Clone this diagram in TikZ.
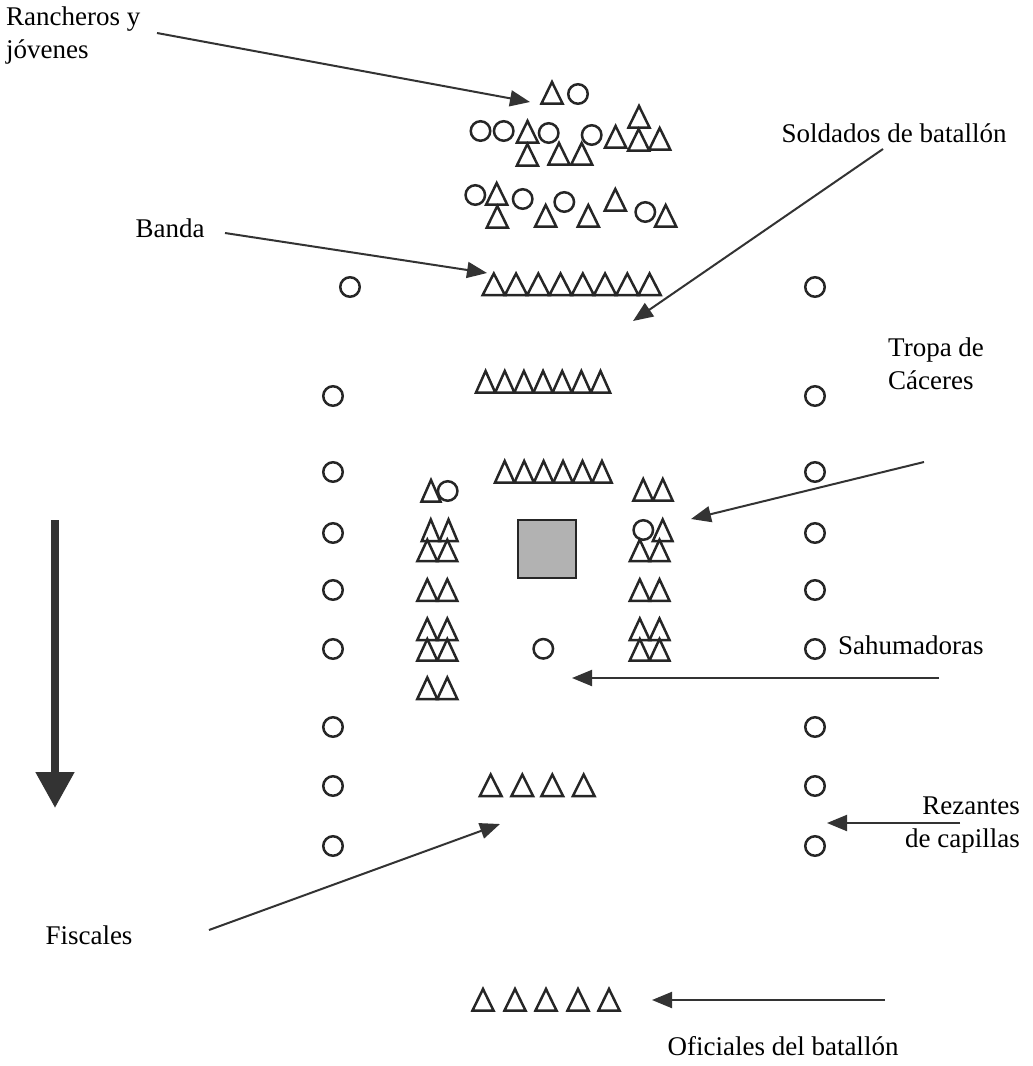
\documentclass[tikz,border=0pt]{standalone}
\usepackage{fontspec}
\setmainfont{Liberation Serif}
\usetikzlibrary{arrows.meta}

\begin{document}
\begin{tikzpicture}[x=1pt, y=-1pt,
  sym/.style={draw=black!85, line width=2.5pt, line join=miter},
  dot/.style={circle, draw=black!85, line width=2.5pt, minimum size=19.5pt, inner sep=0pt},
  pics/tri/.style={code={\draw[sym] (-#1,10.5) -- (#1,10.5) -- (0,-11) -- cycle;}},
  pics/tri/.default=10,
  lbl/.style={font=\fontsize{27}{33}\selectfont, inner sep=0pt},
  arr/.style={draw=black!80, line width=2pt, -{Triangle[length=20pt, width=16pt]}},
  bigarr/.style={draw=black!80, line width=8pt, -{Triangle[length=36pt, width=37pt]}}]
  \useasboundingbox (0,0) rectangle (1033,1066);

  % rancheros y jovenes
  \pic at (552,93) {tri=10.5};
  \node[dot] (rj0) at (578,94) {};
  \foreach \x/\y [count=\i] in {480.5/131, 503.7/131, 548.7/133, 591.7/135,
                                475.3/195, 522.7/199, 564.3/202, 645.3/212}
    \node[dot] (rj\i) at (\x,\y) {};
  \foreach \x/\y in {527.5/132, 615.6/137, 639/117, 638.7/140, 659.7/139,
                     527.4/155, 559/154, 581.7/154,
                     496.7/194, 497.3/217, 545.7/216, 588.3/216, 615.3/200, 665.7/216}
    \pic at (\x,\y) {tri=10.5};

  % banda y soldados
  \foreach \i in {0,...,7}
    \pic at (493.8+22.25*\i,284.5) {tri=11.1};
  \foreach \i in {0,...,6}
    \pic at (485.6+19.15*\i,382) {tri=9.6};
  \foreach \i in {0,...,5}
    \pic at (504.7+19.45*\i,472) {tri=9.7};

  % tropa de Caceres
  \pic at (431,491) {tri=9.5};
  \node[dot] (tc1) at (447.7,491) {};
  \pic at (430.8,530.5) {tri=9};
  \pic at (448.5,530.5) {tri=9};
  \foreach \y in {550.7, 590.3, 629.5, 650, 688.5} {
    \pic at (427.3,\y) {tri};
    \pic at (447.3,\y) {tri};
  }
  \pic at (643.2,490) {tri=9.8};
  \pic at (662.8,490) {tri=9.8};
  \node[dot] (tc2) at (643.3,530) {};
  \pic at (662.7,530.5) {tri=9.8};
  \foreach \y in {550.7, 590.3, 629.5, 650} {
    \pic at (639.8,\y) {tri};
    \pic at (659.5,\y) {tri};
  }

  \node[draw=black!85, line width=2pt, fill=black!30, minimum size=58pt, inner sep=0pt] (altar) at (547.3,549.3) {};
  \node[dot] (sahu) at (543.3,648.8) {};

  % fiscales, oficiales
  \foreach \x in {490.7, 522.3, 552.3, 583.7}
    \pic at (\x,785.5) {tri=10.8};
  \foreach \x in {483, 515, 546, 578, 609}
    \pic at (\x,1000) {tri=10.5};

  % rezantes
  \node[dot] (izq0) at (350,287) {};
  \node[dot] (der0) at (815,287) {};
  \foreach \y [count=\i] in {396, 472, 533, 590, 649, 727, 786, 846} {
    \node[dot] (izq\i) at (333,\y) {};
    \node[dot] (der\i) at (815,\y) {};
  }

  % etiquetas
  \node[lbl, anchor=west, align=left] (rancheros) at (6,36) {Rancheros y\\jóvenes};
  \node[lbl] (soldados) at (894,133) {Soldados de batallón};
  \node[lbl] (banda) at (170,228) {Banda};
  \node[lbl, anchor=west, align=left] (tropa) at (888,364) {Tropa de\\Cáceres};
  \node[lbl, anchor=west] (sahumadoras) at (838,645) {Sahumadoras};
  \node[lbl, anchor=east, align=right] (rezantes) at (1020,825) {Rezantes\\de capillas};
  \node[lbl] (fiscales) at (89,935) {Fiscales};
  \node[lbl] (oficiales) at (783,1046) {Oficiales del batallón};

  \coordinate (ranA) at (157,33);    \coordinate (ranB) at (530,102);
  \coordinate (banA) at (225,233);   \coordinate (banB) at (487,273);
  \coordinate (solA) at (883,149);   \coordinate (solB) at (633,321);
  \coordinate (troA) at (924,462);   \coordinate (troB) at (691,519);
  \coordinate (sahA) at (939,678);   \coordinate (sahB) at (572,678);
  \coordinate (rezA) at (960,823);   \coordinate (rezB) at (827,823);
  \coordinate (fisA) at (209,930);   \coordinate (fisB) at (500,824);
  \coordinate (ofiA) at (885,1000);  \coordinate (ofiB) at (652,1000);
  \coordinate (marchaA) at (55,520); \coordinate (marchaB) at (55,808);

  \draw[arr] (ranA) -- (ranB);
  \draw[arr] (banA) -- (banB);
  \draw[arr] (solA) -- (solB);
  \draw[arr] (troA) -- (troB);
  \draw[arr] (sahA) -- (sahB);
  \draw[arr] (rezA) -- (rezB);
  \draw[arr] (fisA) -- (fisB);
  \draw[arr] (ofiA) -- (ofiB);
  \draw[bigarr] (marchaA) -- (marchaB);
\end{tikzpicture}
\end{document}
